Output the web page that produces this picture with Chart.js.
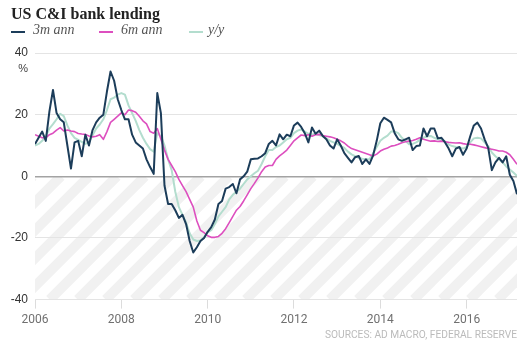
<!DOCTYPE html>
<html><head><meta charset="utf-8">
<script src="https://cdn.jsdelivr.net/npm/chart.js@4/dist/chart.umd.min.js"></script>
<style>
html,body{margin:0;padding:0;background:#fff;}
#wrap{position:relative;width:529px;height:356px;overflow:hidden;}
#c{position:absolute;left:0;top:0;}
.t{position:absolute;white-space:nowrap;}
#title{left:11px;top:6px;font:bold 16px/16px 'Liberation Serif',serif;color:#222;}
.lg{top:23px;font:italic 14px/14px 'Liberation Serif',serif;color:#555;}
.sw{position:absolute;top:31px;width:14px;height:2px;}
#pct{left:14px;top:62px;width:14px;text-align:right;font:11px/12px 'Liberation Sans',sans-serif;color:#444;}
#src{right:12px;top:329px;font:10.2px/12px 'Roboto',sans-serif;color:#bbb;}
</style></head>
<body><div id="wrap">
<canvas id="c" width="529" height="356"></canvas>
<div class="t" id="title">US C&amp;I bank lending</div>
<div class="sw" style="left:11px;background:#1c3d5a"></div><div class="t lg" style="left:33px">3m ann</div>
<div class="sw" style="left:99px;background:#dd4fbf"></div><div class="t lg" style="left:121px">6m ann</div>
<div class="sw" style="left:189px;background:#b3ddce"></div><div class="t lg" style="left:208px">y/y</div>
<div class="t" id="pct">%</div>
<div class="t" id="src">SOURCES: AD MACRO, FEDERAL RESERVE</div>
</div>
<script>
// Monthly observations, Jan 2006 - Mar 2017
const startYear = 2006;
const seriesNames = ['3m ann', '6m ann', 'y/y'];
const ann3m = [10.5,12.5,14.5,11.5,21,28,20.5,18.5,17.5,10,2.5,11,11.5,6.5,13.5,10,15,17.5,19,20,27.5,34,31,25,21.5,18.5,18.5,13.5,11,10,9,5.5,3,0.8,27,20.5,-3,-9,-9,-11,-13.5,-12.5,-15.5,-21,-24.7,-23,-21,-20,
 -18,-16.5,-14,-9,-8,-4,-3.5,-2.5,-5.5,-1,0,1.5,5.5,5.7,5.8,6.5,7.5,10.5,11.5,10,13.6,12,13.5,13,16.5,17.4,16,14,11,15.8,13.8,14.8,13.1,12,10,9,12,10,7.5,6,4.5,6.2,6.6,4,5.5,4,6.8,11.5,17.2,19,18.3,17.5,14,12,11.5,12,12.5,8.5,9.8,10,15.5,13,15.5,15.5,12.3,12.5,11,9,6.5,9,9.5,7,9,13,16.5,17.4,15.5,12,9.2,2,4.5,6,4.5,6.5,0.5,-1.5,-5.8];
const ann6m = [13.5,13,12.5,12.5,13.5,14,15,15.8,14.7,15,14.7,14.5,13.9,13.7,13.6,13.1,12.8,13,13.5,12,14.5,17.5,18.5,19.5,20.6,20,21.5,21.3,20.8,19.5,18,17,14.5,14,15.5,12,8.5,5.5,3.5,1.5,-1,-3,-5,-7.5,-10,-14.5,-17.5,-18.3,
 -19.3,-19.8,-19.8,-19.5,-18.5,-17,-15,-13,-11,-9.8,-8,-6,-4,-2.3,-0.5,1.5,3,3.5,3.5,5.5,6.6,7.5,8.5,10,11.5,12.5,13.4,13.2,13.5,13,13.5,13.6,13.2,13,12.8,12.5,12,11.5,10.8,9.8,9,8.6,8.2,7.8,7.4,7,6.6,7.2,8.2,8.8,9.2,9.8,10,10.4,10.9,11.2,11.4,11.6,12,12.5,12,11.7,11.4,11.5,11.3,11.4,11.2,11,10.9,10.8,10.9,10.6,10.4,10.4,10.2,9.9,9.6,9.3,9,8.8,8.5,8.2,8.2,7.8,7,5.5,3.9];
const yoy = [10,10.5,11.5,13,15.5,16.9,18.5,20.3,19.5,16.5,14,12.5,11.8,11.2,10.5,11,13.3,15.5,16.8,18.5,21.5,25,25.5,26.5,27,26.5,23,20.5,18,15,12.5,10.5,8.8,8,14,13,10,5.5,2,-5,-10,-12.5,-15,-18.5,-20.5,-21,-20.8,-19.8,
 -18.2,-17.5,-15.5,-13,-11.5,-10,-7.5,-6,-5,-4,-2.5,-1,0,1,1.8,4,6.5,8.5,8.5,9.5,10,11,12,12.5,14,14.8,15.2,14.5,13.8,13.6,13.8,13.4,13,12.3,11.5,11,10.5,9.8,9.2,8,7.1,6.5,6,5.7,5.5,5.5,7.5,9.5,11.5,12.5,13.2,14.5,14.5,14,12.5,11.5,10.4,10.5,11,11.8,12.5,13,13.1,12.5,12,11.8,11.3,10.3,9.8,9.5,9.3,9,9.5,11,12.3,12.5,12.3,11,9.8,7.7,6.5,5.5,4.5,3.2,2.2,1.2,0.1];
const xTickYears = [2006, 2008, 2010, 2012, 2014, 2016];
const yTickValues = [-40, -20, 0, 20, 40];

const months = ann3m.map((_, i) => startYear + i / 12);
const toPts = arr => arr.map((v, i) => ({x: months[i], y: v}));

const hatch = {
  id: 'hatch',
  beforeDraw(chart) {
    const {ctx, chartArea: a, scales: {y}} = chart;
    const top = y.getPixelForValue(0), bot = y.getPixelForValue(yTickValues[0]);
    const h = bot - top;
    ctx.save();
    ctx.beginPath(); ctx.rect(a.left, top, a.right - a.left, h); ctx.clip();
    ctx.strokeStyle = '#f1f1f1'; ctx.lineWidth = 10;
    for (let x = a.left - h - 30; x < a.right + 30; x += 28) {
      ctx.beginPath(); ctx.moveTo(x, bot); ctx.lineTo(x + h, top); ctx.stroke();
    }
    ctx.restore();
  }
};

new Chart(document.getElementById('c'), {
  type: 'line',
  data: {
    datasets: [
      {label: seriesNames[0], data: toPts(ann3m), borderColor: '#1c3d5a', borderWidth: 2, order: 1},
      {label: seriesNames[1], data: toPts(ann6m), borderColor: '#dd4fbf', borderWidth: 1.6, order: 2},
      {label: seriesNames[2], data: toPts(yoy), borderColor: '#b3ddce', borderWidth: 2, order: 3}
    ]
  },
  options: {
    responsive: false,
    devicePixelRatio: 1,
    animation: false,
    events: [],
    elements: {point: {radius: 0}, line: {tension: 0, borderJoinStyle: 'round'}},
    layout: {padding: {left: 0, right: 12, top: 53, bottom: 25}},
    plugins: {legend: {display: false}, tooltip: {enabled: false}, title: {display: false}},
    scales: {
      x: {
        type: 'linear',
        min: startYear,
        max: months[months.length - 1],
        afterBuildTicks: s => { s.ticks = xTickYears.map(v => ({value: v})); },
        ticks: {
          callback: v => String(v),
          color: '#707070',
          padding: 4,
          maxRotation: 0,
          autoSkip: false,
          font: {family: "'Roboto', sans-serif", size: 12}
        },
        grid: {drawOnChartArea: false, drawTicks: true, tickLength: 9, color: '#dcdcdc'},
        border: {display: false}
      },
      y: {
        min: yTickValues[0],
        max: yTickValues[yTickValues.length - 1],
        afterBuildTicks: s => { s.ticks = yTickValues.map(v => ({value: v})); },
        afterFit: s => { s.width = 35; },
        ticks: {
          callback: v => String(v),
          color: '#333',
          padding: 7,
          font: {family: "'Liberation Sans', sans-serif", size: 12}
        },
        grid: {
          drawTicks: false,
          color: c => c.tick && c.tick.value === 0 ? '#a3a3a3' : '#e4e4e4',
          lineWidth: c => c.tick && c.tick.value === 0 ? 1.6 : 1
        },
        border: {display: false}
      }
    }
  },
  plugins: [hatch]
});
</script>
</body></html>
